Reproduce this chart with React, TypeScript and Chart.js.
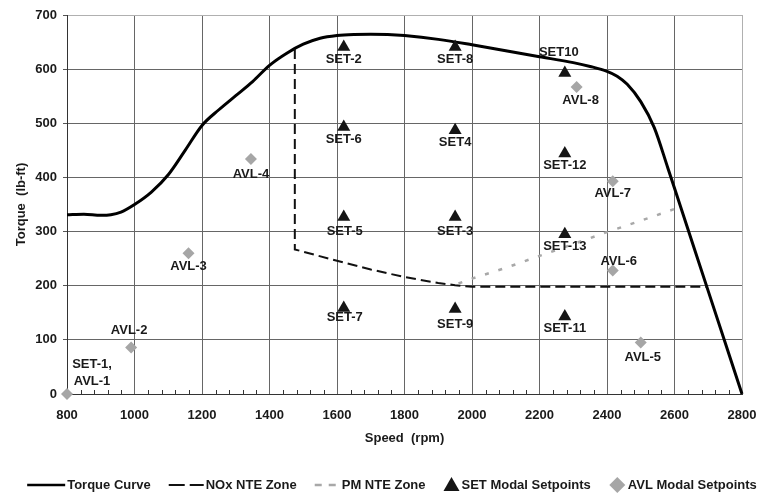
import React, { useEffect, useRef } from 'react';
import { Chart, registerables } from 'chart.js';

Chart.register(...registerables);

const FONT = '"Liberation Sans", Arial, Helvetica, sans-serif';
const TEXT = '#1a1a1a';

// Full-load torque curve (rpm / lb-ft)
const curveSpeed = [800, 850, 900, 930, 960, 1000, 1050, 1100, 1150, 1200, 1250, 1300, 1350, 1400, 1450, 1500, 1550, 1600, 1650, 1700, 1750, 1800, 1900, 2000, 2100, 2200, 2300, 2350, 2400, 2430, 2460, 2500, 2540, 2580, 2620, 2700, 2800];
const curveTorque = [331, 332, 330, 331, 336, 350, 373, 405, 450, 496, 525, 551, 577, 607, 629, 646, 657, 662, 664, 664.5, 664, 662, 655, 645, 634, 623, 612, 605, 596, 587, 572, 540, 492, 418, 342, 190, 0];

// NOx not-to-exceed zone boundary
const noxSpeed = [1475, 1475, 1600, 1700, 1800, 1900, 1950, 2000, 2695];
const noxTorque = [637, 267, 246, 230, 216, 205, 201, 198, 198];

// PM not-to-exceed zone boundary
const pmSpeed = [1960, 2000, 2100, 2200, 2300, 2400, 2500, 2615];
const pmTorque = [204, 213, 233, 255, 277, 299, 320, 345];

// SET modal setpoints
const setNames = ['SET-2', 'SET-3', 'SET4', 'SET-5', 'SET-6', 'SET-7', 'SET-8', 'SET-9', 'SET10', 'SET-11', 'SET-12', 'SET-13'];
const setSpeed = [1620, 1950, 1950, 1620, 1620, 1620, 1950, 1950, 2275, 2275, 2275, 2275];
const setTorque = [641, 327, 487, 327, 493, 159, 641, 157, 593, 143, 444, 295];

// AVL modal setpoints (AVL-1 coincides with SET-1 at idle)
const avlNames = ['AVL-1', 'AVL-2', 'AVL-3', 'AVL-4', 'AVL-5', 'AVL-6', 'AVL-7', 'AVL-8'];
const avlSpeed = [800, 990, 1160, 1345, 2500, 2417, 2417, 2310];
const avlTorque = [0, 86, 260, 434, 95, 228, 393, 567];

// Axis ranges and tick spacing
const speedRange = [800, 2800];
const speedStep = 200;
const speedMinorStep = 40;
const torqueRange = [0, 700];
const torqueStep = 100;

// Label text overrides and placement (pixel offsets from the marker)
const labelText: Record<string, string[]> = { 'AVL-1': ['SET-1,', 'AVL-1'] };
const labelOffset: Record<string, [number, number]> = {
  'AVL-1': [25, -30],
  'AVL-2': [-2, -17],
  'AVL-3': [0, 13],
  'AVL-4': [0, 15],
  'AVL-5': [2, 15],
  'AVL-6': [6, -9],
  'AVL-7': [0, 12],
  'AVL-8': [4, 13],
  'SET10': [-6, -21],
  'SET-5': [1, 14],
  'SET-3': [0, 14],
  'SET-7': [1, 10],
  'SET-9': [0, 15],
};

const toPoints = (xs: number[], ys: number[]) => xs.map((x, i) => ({ x, y: ys[i] }));

const pointLabels = {
  id: 'pointLabels',
  afterDatasetsDraw(chart: any) {
    const ctx = chart.ctx;
    ctx.save();
    ctx.font = `bold 13px ${FONT}`;
    ctx.fillStyle = TEXT;
    ctx.textAlign = 'center';
    ctx.textBaseline = 'middle';
    chart.data.datasets.forEach((ds: any, di: number) => {
      const names: string[] | undefined = ds.pointNames;
      if (!names) return;
      const meta = chart.getDatasetMeta(di);
      meta.data.forEach((el: any, i: number) => {
        const name = names[i];
        const lines = labelText[name] ?? [name];
        const [dx, dy] = labelOffset[name] ?? [0, 12];
        lines.forEach((ln, k) => ctx.fillText(ln, el.x + dx, el.y + dy + k * 17.5));
      });
    });
    ctx.restore();
  },
};

const minorTicks = {
  id: 'minorTicks',
  afterDraw(chart: any) {
    const { ctx, scales, chartArea } = chart;
    const x = scales.x;
    ctx.save();
    ctx.strokeStyle = '#333';
    ctx.lineWidth = 1;
    ctx.beginPath();
    for (let v = speedRange[0]; v <= speedRange[1]; v += speedMinorStep) {
      if (v % speedStep === 0) continue;
      const px = Math.round(x.getPixelForValue(v)) + 0.5;
      ctx.moveTo(px, chartArea.bottom);
      ctx.lineTo(px, chartArea.bottom - 4);
    }
    ctx.stroke();
    ctx.restore();
  },
};

const bottomLegend = {
  id: 'bottomLegend',
  afterDraw(chart: any) {
    const ctx = chart.ctx;
    const y = 485;
    ctx.save();
    ctx.font = `bold 13px ${FONT}`;
    ctx.textBaseline = 'middle';
    ctx.textAlign = 'left';
    const items = chart.data.datasets.map((ds: any) => ({
      ds,
      symW: ds.legendWidth as number,
      textW: ctx.measureText(ds.label).width,
    }));
    const gap = 18;
    const total = items.reduce((s: number, it: any) => s + it.symW + 2 + it.textW, 0) + gap * (items.length - 1);
    let x = 392 - total / 2;
    items.forEach((it: any) => {
      const ds = it.ds;
      if (ds.showLine) {
        ctx.strokeStyle = ds.borderColor;
        ctx.lineWidth = ds.legendLineWidth ?? ds.borderWidth;
        ctx.setLineDash(ds.legendDash ?? []);
        ctx.beginPath();
        ctx.moveTo(x, y);
        ctx.lineTo(x + it.symW, y);
        ctx.stroke();
        ctx.setLineDash([]);
      } else {
        ctx.fillStyle = ds.backgroundColor;
        ctx.beginPath();
        const cx = x + it.symW / 2;
        if (ds.pointStyle === 'triangle') {
          ctx.moveTo(cx, y - 8);
          ctx.lineTo(cx + 8, y + 6);
          ctx.lineTo(cx - 8, y + 6);
        } else {
          ctx.moveTo(cx, y - 8);
          ctx.lineTo(cx + 8, y);
          ctx.lineTo(cx, y + 8);
          ctx.lineTo(cx - 8, y);
        }
        ctx.closePath();
        ctx.fill();
      }
      x += it.symW + 2;
      ctx.fillStyle = TEXT;
      ctx.fillText(ds.label, x, y);
      x += it.textW + gap;
    });
    ctx.restore();
  },
};

export default function App() {
  const canvasRef = useRef<HTMLCanvasElement | null>(null);

  useEffect(() => {
    const canvas = canvasRef.current;
    if (!canvas) return;
    const chart = new Chart(canvas, {
      type: 'scatter',
      data: {
        datasets: [
          {
            label: 'Torque Curve',
            data: toPoints(curveSpeed, curveTorque),
            showLine: true,
            borderColor: '#000',
            backgroundColor: '#000',
            borderWidth: 3,
            pointRadius: 0,
            cubicInterpolationMode: 'monotone',
            order: 4,
            legendWidth: 38,
            legendLineWidth: 2.5,
          } as any,
          {
            label: 'NOx NTE Zone',
            data: toPoints(noxSpeed, noxTorque),
            showLine: true,
            borderColor: '#111',
            backgroundColor: '#111',
            borderWidth: 2,
            borderDash: [10, 5],
            pointRadius: 0,
            tension: 0,
            order: 3,
            legendWidth: 35,
            legendDash: [16, 5],
          } as any,
          {
            label: 'PM NTE Zone',
            data: toPoints(pmSpeed, pmTorque),
            showLine: true,
            borderColor: '#a8a8a8',
            backgroundColor: '#a8a8a8',
            borderWidth: 2.5,
            borderDash: [4, 10],
            pointRadius: 0,
            tension: 0,
            order: 2,
            legendWidth: 25,
            legendDash: [7, 7],
          } as any,
          {
            label: 'SET Modal Setpoints',
            data: toPoints(setSpeed, setTorque),
            pointNames: setNames,
            showLine: false,
            pointStyle: 'triangle',
            pointRadius: 7.5,
            backgroundColor: '#151515',
            borderColor: '#151515',
            borderWidth: 0,
            order: 1,
            legendWidth: 16,
          } as any,
          {
            label: 'AVL Modal Setpoints',
            data: toPoints(avlSpeed, avlTorque),
            pointNames: avlNames,
            showLine: false,
            pointStyle: 'rectRot',
            pointRadius: 6,
            backgroundColor: '#a6a6a6',
            borderColor: '#a6a6a6',
            borderWidth: 0,
            order: 0,
            legendWidth: 17,
          } as any,
        ],
      },
      options: {
        responsive: false,
        animation: false,
        clip: false as any,
        layout: { padding: { top: 15, right: 32, left: 0, bottom: 0 } },
        plugins: {
          legend: { display: false },
          tooltip: { enabled: false },
        },
        scales: {
          x: {
            type: 'linear',
            min: speedRange[0],
            max: speedRange[1],
            afterFit: (scale: any) => {
              scale.height = 100;
            },
            afterBuildTicks: (scale: any) => {
              const ticks = [];
              for (let v = speedRange[0]; v <= speedRange[1]; v += speedStep) ticks.push({ value: v });
              scale.ticks = ticks;
            },
            ticks: {
              font: { family: FONT, size: 13, weight: 'bold' },
              color: TEXT,
              padding: 14,
              maxRotation: 0,
              callback: (v: any) => String(v),
            },
            grid: {
              color: (c: any) => (c.tick && c.tick.value === speedRange[1] ? '#b0b0b0' : '#666'),
              lineWidth: 1,
              drawTicks: false,
            },
            border: { color: '#333', width: 1 },
            title: {
              display: true,
              text: 'Speed  (rpm)',
              font: { family: FONT, size: 13, weight: 'bold' },
              color: TEXT,
              padding: { top: 0, bottom: 48 },
            },
          },
          y: {
            type: 'linear',
            min: torqueRange[0],
            max: torqueRange[1],
            afterFit: (scale: any) => {
              scale.width = 67;
            },
            afterBuildTicks: (scale: any) => {
              const ticks = [];
              for (let v = torqueRange[0]; v <= torqueRange[1]; v += torqueStep) ticks.push({ value: v });
              scale.ticks = ticks;
            },
            ticks: {
              font: { family: FONT, size: 13, weight: 'bold' },
              color: TEXT,
              padding: 6,
              callback: (v: any) => String(v),
            },
            grid: {
              color: (c: any) => (c.tick && c.tick.value === torqueRange[1] ? '#b0b0b0' : '#666'),
              lineWidth: 1,
              drawTicks: true,
              tickLength: 4,
              tickColor: '#555',
            },
            border: { color: '#333', width: 1 },
            title: {
              display: true,
              text: 'Torque  (lb-ft)',
              font: { family: FONT, size: 13, weight: 'bold' },
              color: TEXT,
              padding: { top: 14, bottom: 0 },
            },
          },
        },
      },
      plugins: [minorTicks, pointLabels, bottomLegend],
    });
    return () => chart.destroy();
  }, []);

  return (
    <div style={{ position: 'absolute', left: 0, top: 0, width: 774, height: 494, background: '#fff' }}>
      <canvas ref={canvasRef} width={774} height={494} />
    </div>
  );
}
